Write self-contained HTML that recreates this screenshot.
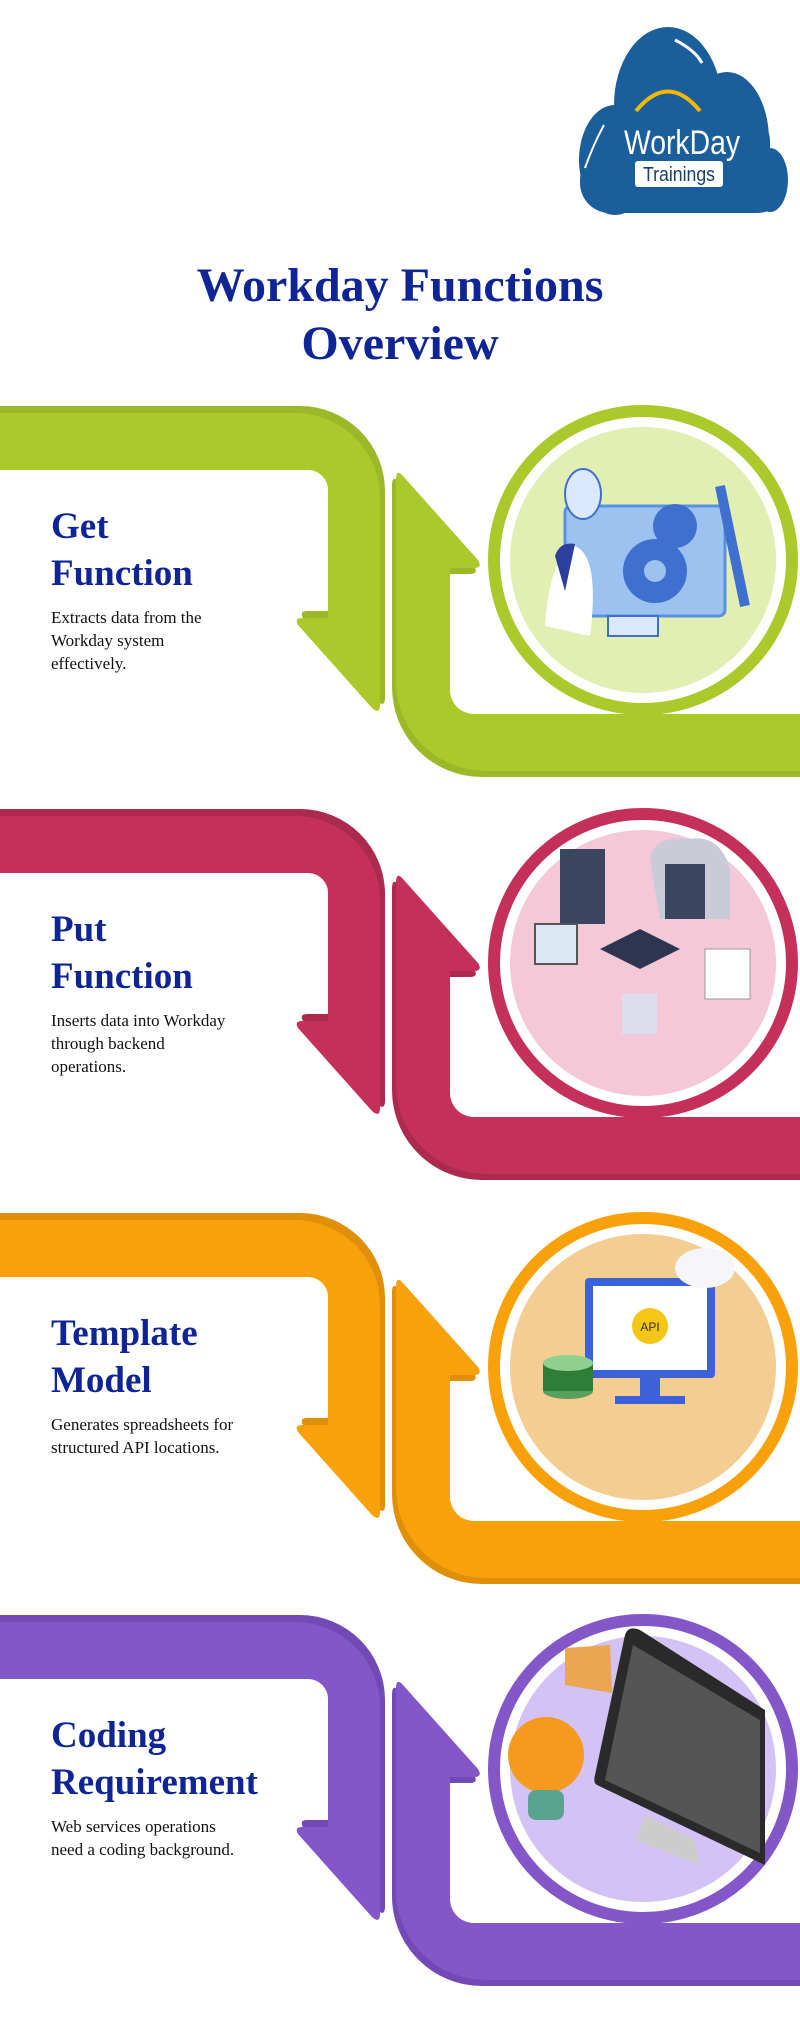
<!DOCTYPE html>
<html><head><meta charset="utf-8"><style>
html,body{margin:0;padding:0;background:#fff;}
#c{position:relative;width:800px;height:2037px;overflow:hidden;font-family:"Liberation Serif",serif;}
.t{position:absolute;left:0;width:800px;text-align:center;color:#0f2596;font-weight:bold;font-size:48px;line-height:58px;}
.h{position:absolute;left:51px;color:#0f2596;font-weight:bold;font-size:37px;line-height:47px;}
.b{position:absolute;left:51px;color:#111;font-size:17px;line-height:23px;}
svg{position:absolute;left:0;top:0;}
</style></head><body><div id="c">
<svg width="800" height="2037" viewBox="0 0 800 2037">
<defs>
<g id="p1"><path d="M0,0 H300 A85,85 0 0 1 385,85 V292 Q385,302 377,295 L303,212 Q299,205 307,205 H333 V78 A20,20 0 0 0 313,57 H0 Z"/></g>
<g id="p2"><path d="M392,80 Q392,68 399,76 L474,160 Q479,168 470,168 H446 V290 A24,24 0 0 0 470,314 H800 V371 H482 A90,90 0 0 1 392,281 Z"/></g>
</defs>
<!-- logo -->
<g fill="#1a5f9c">
<ellipse cx="668" cy="105" rx="54" ry="78"/>
<ellipse cx="727" cy="140" rx="42" ry="68"/>
<ellipse cx="770" cy="180" rx="18" ry="32"/>
<ellipse cx="615" cy="160" rx="36" ry="55"/>
<rect x="580" y="150" width="207" height="63" rx="30"/>
<rect x="600" y="120" width="170" height="93" rx="20"/>
</g>
<path d="M636,111 Q668,72 700,111" stroke="#f5b800" stroke-width="4" fill="none"/>
<path d="M675,40 Q695,50 702,63" stroke="#fff" stroke-width="3" fill="none"/>
<path d="M604,125 Q593,145 585,168" stroke="#fff" stroke-width="2" fill="none"/>
<text x="682" y="154" text-anchor="middle" font-family="Liberation Sans,sans-serif" font-size="34" fill="#fff" textLength="116" lengthAdjust="spacingAndGlyphs">WorkDay</text>
<rect x="635" y="161" width="88" height="26" rx="3" fill="#fff"/>
<text x="679" y="181" text-anchor="middle" font-family="Liberation Sans,sans-serif" font-size="20" fill="#1a3e6c" textLength="72" lengthAdjust="spacingAndGlyphs">Trainings</text>

<!-- sections -->
<g transform="translate(0,406)">
<use href="#p1" fill="#9ab827"/><use href="#p1" fill="#acc92c" transform="translate(-5,7)"/>
<use href="#p2" fill="#9ab827"/><use href="#p2" fill="#acc92c" transform="translate(4,-6)"/>
<circle cx="643" cy="154" r="149" fill="#fff" stroke="#acc92c" stroke-width="12"/>
<circle cx="643" cy="154" r="133" fill="#e2efb2"/>
<rect x="565" y="100" width="160" height="110" rx="6" fill="#9cc3f0" stroke="#5b8fe0" stroke-width="3"/>
<circle cx="655" cy="165" r="32" fill="#3f6fcf"/><circle cx="655" cy="165" r="11" fill="#9cc3f0"/>
<circle cx="675" cy="120" r="22" fill="#3f6fcf"/>
<ellipse cx="583" cy="88" rx="18" ry="25" fill="#dbe9ff" stroke="#3f6fcf" stroke-width="2"/>
<rect x="608" y="210" width="50" height="20" fill="#dbe9ff" stroke="#3f6fcf" stroke-width="2"/>
<path d="M545,220 Q550,150 575,140 Q600,150 590,230 Z" fill="#fff"/>
<path d="M555,150 Q560,135 575,138 L565,185 Z" fill="#2d3f9c"/>
<path d="M720,80 L745,200" stroke="#3f6fcf" stroke-width="10"/>
</g>
<g transform="translate(0,809)">
<use href="#p1" fill="#ad2a4f"/><use href="#p1" fill="#c4305a" transform="translate(-5,7)"/>
<use href="#p2" fill="#ad2a4f"/><use href="#p2" fill="#c4305a" transform="translate(4,-6)"/>
<circle cx="643" cy="154" r="149" fill="#fff" stroke="#c4305a" stroke-width="12"/>
<circle cx="643" cy="154" r="133" fill="#f5c8d8"/>
<rect x="560" y="40" width="45" height="75" fill="#3a4660"/>
<path d="M650,50 Q655,25 690,30 Q720,25 730,60 L730,110 L660,110 Z" fill="#c9ccd6"/>
<rect x="665" y="55" width="40" height="55" fill="#3a4660"/>
<path d="M600,140 L640,120 L680,140 L640,160 Z" fill="#2e3550"/>
<rect x="535" y="115" width="42" height="40" fill="#dde8f5" stroke="#555" stroke-width="2"/>
<rect x="705" y="140" width="45" height="50" fill="#fff" stroke="#999"/>
<rect x="622" y="185" width="35" height="40" fill="#dde" />
</g>
<g transform="translate(0,1213)">
<use href="#p1" fill="#e08f08"/><use href="#p1" fill="#f9a10a" transform="translate(-5,7)"/>
<use href="#p2" fill="#e08f08"/><use href="#p2" fill="#f9a10a" transform="translate(4,-6)"/>
<circle cx="643" cy="154" r="149" fill="#fff" stroke="#f9a10a" stroke-width="12"/>
<circle cx="643" cy="154" r="133" fill="#f3cd91"/>
<rect x="585" y="65" width="130" height="100" rx="4" fill="#3b62d8"/>
<rect x="593" y="73" width="114" height="84" fill="#fff"/>
<circle cx="650" cy="113" r="18" fill="#f5c518"/>
<text x="650" y="118" text-anchor="middle" font-family="Liberation Sans,sans-serif" font-size="12" fill="#333">API</text>
<rect x="640" y="165" width="20" height="20" fill="#3b62d8"/>
<rect x="615" y="183" width="70" height="8" fill="#3b62d8"/>
<ellipse cx="568" cy="178" rx="25" ry="8" fill="#5aa05a"/>
<rect x="543" y="150" width="50" height="28" fill="#2f7d3a"/>
<ellipse cx="568" cy="150" rx="25" ry="8" fill="#8fd08f"/>
<ellipse cx="705" cy="55" rx="30" ry="20" fill="#f5f5fa"/>
</g>
<g transform="translate(0,1615)">
<use href="#p1" fill="#7249b5"/><use href="#p1" fill="#8457c8" transform="translate(-5,7)"/>
<use href="#p2" fill="#7249b5"/><use href="#p2" fill="#8457c8" transform="translate(4,-6)"/>
<circle cx="643" cy="154" r="149" fill="#fff" stroke="#8457c8" stroke-width="12"/>
<circle cx="643" cy="154" r="133" fill="#d3c2f5"/>
<path d="M625,20 Q628,10 640,15 L765,95 L765,250 L597,170 Q593,168 595,160 Z" fill="#2a2a2a"/>
<path d="M633,30 L760,105 L760,238 L605,165 Z" fill="#555"/>
<path d="M645,200 L695,225 L700,250 L635,225 Z" fill="#ccc"/>
<path d="M565,33 L610,30 L612,78 L565,70 Z" fill="#eba652"/>
<circle cx="546" cy="140" r="38" fill="#f59a1e"/>
<rect x="528" y="175" width="36" height="30" rx="8" fill="#5aa48f"/>
</g>
</svg>
<div class="t" style="top:257px">Workday Functions<br>Overview</div>

<div class="h" style="top:503px">Get<br>Function</div>
<div class="b" style="top:606px">Extracts data from the<br>Workday system<br>effectively.</div>

<div class="h" style="top:906px">Put<br>Function</div>
<div class="b" style="top:1009px">Inserts data into Workday<br>through backend<br>operations.</div>

<div class="h" style="top:1310px">Template<br>Model</div>
<div class="b" style="top:1413px">Generates spreadsheets for<br>structured API locations.</div>

<div class="h" style="top:1712px">Coding<br>Requirement</div>
<div class="b" style="top:1815px">Web services operations<br>need a coding background.</div>
</div></body></html>
